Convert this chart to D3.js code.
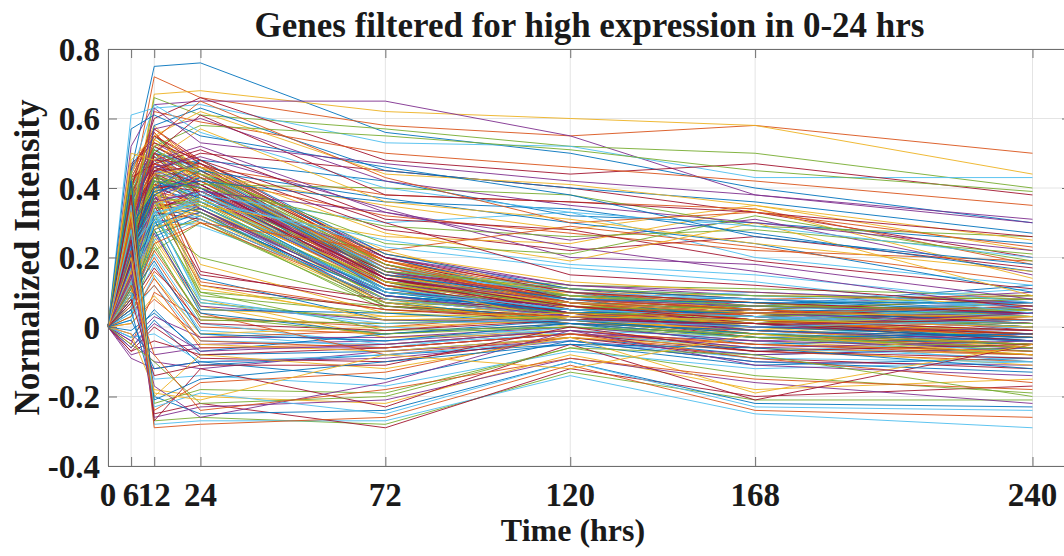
<!DOCTYPE html>
<html>
<head>
<meta charset="utf-8">
<script src="https://cdn.jsdelivr.net/npm/d3@7"></script>
<style>
  body { margin: 0; background: #fff; }
  text { font-family: "Liberation Serif", "Times New Roman", serif; font-weight: bold; fill: #1a1a1a; }
</style>
</head>
<body>
<div id="chart"></div>
<script>
'use strict';

// sample times (hrs); every gene starts at 0 at time 0
var times = [0, 6, 12, 24, 72, 120, 168, 240];
var startValue = 0;
var xTicks = [0, 6, 12, 24, 72, 120, 168, 240];
var yTicks = [-0.4, -0.2, 0, 0.2, 0.4, 0.6, 0.8];

// values at 6, 12, 24, 72, 120, 168, 240 hrs
var highGenes = [
  [0.45, 0.75, 0.76, 0.56, 0.50, 0.40, 0.30],
  [0.38, 0.72, 0.66, 0.58, 0.55, 0.58, 0.50],
  [0.30, 0.67, 0.68, 0.62, 0.60, 0.58, 0.44],
  [0.52, 0.64, 0.65, 0.65, 0.55, 0.38, 0.30],
  [0.28, 0.66, 0.61, 0.57, 0.52, 0.50, 0.40],
  [0.61, 0.63, 0.64, 0.53, 0.52, 0.43, 0.43],
  [0.40, 0.60, 0.66, 0.48, 0.44, 0.47, 0.38],
  [0.22, 0.58, 0.63, 0.45, 0.40, 0.36, 0.27],
  [0.35, 0.62, 0.59, 0.50, 0.46, 0.42, 0.35],
  [0.48, 0.55, 0.62, 0.44, 0.41, 0.35, 0.25],
  [0.26, 0.57, 0.60, 0.42, 0.35, 0.30, 0.22],
  [0.33, 0.52, 0.58, 0.55, 0.51, 0.45, 0.39],
  [0.44, 0.64, 0.56, 0.40, 0.33, 0.29, 0.20],
  [0.19, 0.50, 0.61, 0.38, 0.36, 0.33, 0.26],
  [0.57, 0.61, 0.55, 0.46, 0.38, 0.26, 0.18],
  [0.31, 0.54, 0.65, 0.43, 0.30, 0.33, 0.23],
  [0.50, 0.48, 0.57, 0.36, 0.31, 0.24, 0.16],
  [0.24, 0.63, 0.53, 0.47, 0.42, 0.38, 0.31]
];

var midGenes = [
  [0.30, 0.45, 0.50, 0.45, 0.40, 0.33, 0.20],
  [0.22, 0.40, 0.48, 0.42, 0.32, 0.30, 0.24],
  [0.41, 0.52, 0.46, 0.38, 0.36, 0.34, 0.18],
  [0.15, 0.35, 0.44, 0.35, 0.28, 0.35, 0.22],
  [0.36, 0.48, 0.52, 0.33, 0.25, 0.31, 0.15],
  [0.27, 0.43, 0.41, 0.40, 0.38, 0.29, 0.26],
  [0.12, 0.30, 0.38, 0.30, 0.33, 0.20, 0.12],
  [0.46, 0.55, 0.47, 0.28, 0.22, 0.26, 0.17],
  [0.20, 0.38, 0.45, 0.37, 0.30, 0.24, 0.10],
  [0.33, 0.50, 0.43, 0.32, 0.27, 0.22, 0.19],
  [0.09, 0.28, 0.35, 0.26, 0.24, 0.34, 0.14],
  [0.38, 0.46, 0.49, 0.34, 0.20, 0.18, 0.08],
  [0.25, 0.42, 0.40, 0.29, 0.26, 0.28, 0.21],
  [0.17, 0.33, 0.36, 0.25, 0.18, 0.15, 0.07],
  [0.43, 0.47, 0.51, 0.31, 0.28, 0.19, 0.11],
  [0.29, 0.39, 0.42, 0.36, 0.34, 0.27, 0.16],
  [0.06, 0.24, 0.30, 0.22, 0.29, 0.23, 0.13],
  [0.35, 0.44, 0.46, 0.27, 0.19, 0.30, 0.09],
  [0.14, 0.36, 0.39, 0.33, 0.23, 0.16, 0.05],
  [0.39, 0.51, 0.44, 0.24, 0.21, 0.32, 0.19],
  [0.23, 0.31, 0.37, 0.23, 0.17, 0.13, 0.04],
  [0.47, 0.53, 0.48, 0.30, 0.15, 0.12, 0.06]
];

var mainGenes = [
  [0.21, 0.42, 0.38, 0.15, 0.08, 0.05, 0.02],
  [0.32, 0.49, 0.44, 0.19, 0.10, 0.07, 0.04],
  [0.15, 0.36, 0.33, 0.12, 0.06, 0.02, -0.01],
  [0.40, 0.53, 0.46, 0.21, 0.12, 0.09, 0.08],
  [0.27, 0.45, 0.35, 0.10, 0.04, 0.00, -0.03],
  [0.11, 0.33, 0.31, 0.08, 0.05, 0.03, 0.06],
  [0.36, 0.47, 0.42, 0.17, 0.07, 0.04, 0.00],
  [0.19, 0.40, 0.36, 0.13, 0.09, 0.08, 0.05],
  [0.44, 0.56, 0.40, 0.14, 0.03, -0.02, -0.05],
  [0.08, 0.29, 0.30, 0.07, 0.02, 0.05, 0.03],
  [0.30, 0.44, 0.47, 0.20, 0.11, 0.06, 0.10],
  [0.24, 0.38, 0.34, 0.11, 0.06, -0.01, -0.04],
  [0.13, 0.35, 0.39, 0.16, 0.08, 0.10, 0.07],
  [0.37, 0.50, 0.43, 0.18, 0.05, 0.01, -0.02],
  [0.05, 0.26, 0.32, 0.09, 0.04, 0.06, 0.12],
  [0.28, 0.41, 0.37, 0.14, 0.10, 0.03, 0.01],
  [0.42, 0.54, 0.45, 0.22, 0.09, 0.04, -0.06],
  [0.17, 0.37, 0.33, 0.06, 0.01, -0.03, -0.07],
  [0.33, 0.46, 0.41, 0.16, 0.12, 0.11, 0.09],
  [0.10, 0.31, 0.29, 0.10, 0.07, 0.02, 0.04],
  [0.25, 0.43, 0.40, 0.12, 0.03, 0.05, -0.01],
  [0.39, 0.48, 0.36, 0.13, 0.06, 0.00, 0.03],
  [0.20, 0.39, 0.42, 0.19, 0.08, 0.07, 0.02],
  [0.14, 0.34, 0.35, 0.08, 0.00, -0.04, -0.08],
  [0.34, 0.51, 0.44, 0.15, 0.11, 0.08, 0.06],
  [0.07, 0.27, 0.31, 0.05, 0.03, 0.01, 0.05],
  [0.29, 0.40, 0.38, 0.17, 0.09, 0.06, 0.11],
  [0.45, 0.57, 0.48, 0.20, 0.07, 0.03, -0.03],
  [0.18, 0.36, 0.32, 0.09, 0.05, 0.04, 0.00],
  [0.26, 0.44, 0.41, 0.13, 0.02, -0.02, -0.05],
  [0.12, 0.32, 0.37, 0.11, 0.10, 0.09, 0.08],
  [0.35, 0.47, 0.39, 0.18, 0.06, 0.02, 0.01],
  [0.03, 0.22, 0.30, 0.06, 0.04, 0.03, 0.07],
  [0.31, 0.45, 0.43, 0.14, 0.08, 0.05, 0.03],
  [0.22, 0.41, 0.34, 0.07, 0.01, 0.00, -0.02],
  [0.41, 0.52, 0.45, 0.16, 0.04, -0.01, -0.04],
  [0.16, 0.35, 0.36, 0.12, 0.07, 0.06, 0.04],
  [0.38, 0.49, 0.42, 0.21, 0.13, 0.10, 0.06],
  [0.09, 0.30, 0.33, 0.10, 0.06, 0.04, 0.02],
  [0.23, 0.43, 0.39, 0.15, 0.05, 0.01, -0.01],
  [0.32, 0.46, 0.37, 0.12, 0.08, 0.07, 0.05],
  [0.13, 0.33, 0.31, 0.08, 0.03, -0.03, -0.06],
  [0.43, 0.55, 0.44, 0.17, 0.10, 0.05, 0.02],
  [0.27, 0.42, 0.40, 0.19, 0.11, 0.08, 0.09],
  [0.06, 0.28, 0.34, 0.09, 0.02, 0.00, -0.03],
  [0.36, 0.50, 0.46, 0.13, 0.04, 0.02, 0.00],
  [0.19, 0.38, 0.35, 0.11, 0.09, 0.06, 0.03],
  [0.29, 0.44, 0.42, 0.16, 0.06, 0.03, -0.02],
  [0.11, 0.34, 0.38, 0.14, 0.07, 0.05, 0.08],
  [0.40, 0.51, 0.43, 0.10, 0.05, 0.04, 0.01]
];

var coreGenes = [
  [0.26, 0.47, 0.41, 0.14, 0.05, 0.03, 0.04],
  [0.18, 0.41, 0.45, 0.18, 0.07, 0.01, -0.03],
  [0.35, 0.52, 0.37, 0.09, 0.03, 0.04, 0.07],
  [0.09, 0.33, 0.40, 0.16, 0.09, 0.05, 0.01],
  [0.42, 0.50, 0.47, 0.20, 0.08, 0.02, -0.04],
  [0.23, 0.39, 0.36, 0.12, 0.04, -0.02, -0.06],
  [0.30, 0.48, 0.43, 0.17, 0.10, 0.07, 0.03],
  [0.14, 0.37, 0.34, 0.10, 0.06, 0.03, 0.00],
  [0.38, 0.55, 0.45, 0.13, 0.02, -0.03, -0.08],
  [0.05, 0.30, 0.32, 0.11, 0.08, 0.06, 0.05],
  [0.27, 0.44, 0.39, 0.16, 0.07, 0.04, 0.02],
  [0.33, 0.46, 0.48, 0.21, 0.11, 0.08, 0.04],
  [0.16, 0.36, 0.30, 0.08, 0.03, 0.00, -0.02],
  [0.44, 0.58, 0.44, 0.15, 0.06, 0.01, -0.01],
  [0.21, 0.40, 0.42, 0.14, 0.04, 0.02, 0.06],
  [0.12, 0.34, 0.37, 0.13, 0.09, 0.07, 0.03],
  [0.36, 0.49, 0.40, 0.11, 0.05, 0.03, -0.03],
  [0.25, 0.45, 0.46, 0.19, 0.08, 0.05, 0.01],
  [0.08, 0.28, 0.33, 0.07, 0.02, 0.01, -0.04],
  [0.31, 0.50, 0.38, 0.15, 0.10, 0.06, 0.05],
  [0.40, 0.53, 0.42, 0.18, 0.06, 0.00, -0.06],
  [0.19, 0.38, 0.44, 0.12, 0.03, 0.02, 0.00],
  [0.28, 0.43, 0.35, 0.10, 0.07, 0.05, 0.08],
  [0.13, 0.35, 0.41, 0.17, 0.11, 0.09, 0.06],
  [0.34, 0.48, 0.47, 0.14, 0.04, -0.01, -0.05],
  [0.22, 0.42, 0.37, 0.09, 0.05, 0.04, 0.02],
  [0.46, 0.56, 0.43, 0.16, 0.08, 0.03, 0.00],
  [0.10, 0.31, 0.36, 0.12, 0.06, 0.02, -0.02],
  [0.29, 0.45, 0.40, 0.20, 0.12, 0.10, 0.07],
  [0.17, 0.39, 0.33, 0.06, 0.02, -0.02, -0.07],
  [0.37, 0.51, 0.45, 0.17, 0.09, 0.06, 0.03],
  [0.24, 0.41, 0.39, 0.13, 0.05, 0.03, 0.01],
  [0.07, 0.29, 0.35, 0.10, 0.04, 0.05, 0.04],
  [0.32, 0.47, 0.42, 0.15, 0.07, 0.02, -0.03],
  [0.41, 0.54, 0.46, 0.19, 0.09, 0.05, 0.02],
  [0.15, 0.37, 0.38, 0.11, 0.03, 0.00, -0.01],
  [0.26, 0.44, 0.36, 0.08, 0.04, 0.03, 0.05],
  [0.35, 0.49, 0.44, 0.16, 0.10, 0.08, 0.06],
  [0.20, 0.40, 0.41, 0.14, 0.06, 0.01, -0.04],
  [0.11, 0.32, 0.34, 0.09, 0.05, 0.04, 0.03],
  [0.43, 0.55, 0.48, 0.18, 0.07, 0.02, -0.02],
  [0.28, 0.46, 0.39, 0.12, 0.02, -0.01, -0.05],
  [0.18, 0.37, 0.43, 0.16, 0.08, 0.06, 0.04],
  [0.33, 0.50, 0.37, 0.13, 0.06, 0.04, 0.00],
  [0.04, 0.25, 0.31, 0.08, 0.03, 0.02, 0.06],
  [0.38, 0.52, 0.45, 0.20, 0.10, 0.07, 0.04],
  [0.23, 0.42, 0.40, 0.11, 0.04, 0.00, -0.03],
  [0.30, 0.47, 0.44, 0.17, 0.08, 0.05, 0.02],
  [0.14, 0.35, 0.32, 0.07, 0.01, -0.03, -0.06],
  [0.39, 0.50, 0.41, 0.14, 0.07, 0.04, 0.01],
  [0.25, 0.43, 0.46, 0.18, 0.09, 0.06, 0.05],
  [0.12, 0.33, 0.35, 0.10, 0.05, 0.03, 0.00],
  [0.34, 0.49, 0.38, 0.12, 0.04, 0.01, -0.02],
  [0.21, 0.40, 0.43, 0.15, 0.08, 0.07, 0.07],
  [0.45, 0.57, 0.47, 0.19, 0.06, 0.02, -0.03],
  [0.16, 0.36, 0.37, 0.13, 0.07, 0.04, 0.03],
  [0.27, 0.44, 0.34, 0.09, 0.03, -0.01, -0.04],
  [0.36, 0.51, 0.43, 0.16, 0.11, 0.09, 0.08],
  [0.08, 0.30, 0.39, 0.11, 0.05, 0.03, 0.01],
  [0.31, 0.46, 0.41, 0.14, 0.06, 0.02, -0.01]
];

var flatGenes = [
  [-0.05, 0.10, 0.02, 0.01, 0.02, -0.03, -0.05],
  [0.12, 0.25, 0.05, 0.03, 0.04, 0.00, 0.02],
  [-0.08, -0.06, -0.05, -0.04, -0.01, -0.06, -0.08],
  [0.20, 0.32, 0.10, 0.06, 0.03, 0.02, 0.04],
  [0.02, 0.15, -0.02, -0.06, 0.00, -0.04, -0.10],
  [0.26, 0.38, 0.15, 0.08, 0.05, 0.03, 0.06],
  [-0.03, 0.05, -0.08, -0.07, -0.03, -0.08, -0.06],
  [0.08, 0.20, 0.00, -0.02, 0.01, -0.01, -0.03],
  [0.33, 0.42, 0.18, 0.04, 0.06, 0.05, 0.01],
  [-0.09, -0.12, -0.10, -0.09, -0.04, -0.10, -0.11],
  [0.15, 0.28, 0.07, 0.02, 0.03, 0.01, 0.05],
  [0.04, 0.12, -0.04, -0.05, -0.02, -0.07, -0.04],
  [0.22, 0.35, 0.12, 0.05, 0.02, 0.04, 0.07],
  [-0.06, 0.02, -0.11, -0.08, -0.05, -0.11, -0.09],
  [0.10, 0.22, 0.03, 0.00, 0.04, 0.02, -0.01],
  [0.29, 0.40, 0.08, -0.03, -0.01, -0.05, -0.07],
  [-0.02, -0.08, -0.06, -0.06, -0.02, -0.04, -0.02],
  [0.17, 0.30, 0.20, 0.07, 0.05, 0.06, 0.09],
  [0.06, 0.18, -0.01, -0.04, 0.00, -0.02, 0.00],
  [-0.07, 0.00, -0.09, -0.10, -0.03, -0.09, -0.12],
  [0.24, 0.36, 0.14, 0.02, 0.01, -0.03, -0.05],
  [0.01, 0.08, -0.03, -0.01, 0.03, 0.00, 0.03],
  [0.13, 0.26, 0.06, -0.03, -0.02, -0.06, -0.08],
  [-0.04, -0.10, -0.12, -0.07, -0.04, -0.08, -0.06],
  [0.19, 0.33, 0.09, 0.04, 0.02, 0.01, -0.02],
  [0.09, 0.21, 0.01, -0.05, -0.01, -0.03, -0.07],
  [0.31, 0.45, 0.16, 0.06, 0.03, 0.00, 0.04],
  [-0.01, 0.04, -0.07, -0.02, 0.01, -0.05, -0.03],
  [0.05, 0.16, 0.04, -0.08, -0.03, -0.07, -0.10],
  [0.27, 0.14, -0.02, 0.00, 0.02, -0.01, 0.05]
];

var nearZeroGenes = [
  [0.18, 0.28, 0.04, -0.02, 0.02, -0.02, -0.04],
  [0.05, 0.12, -0.06, -0.05, -0.01, -0.05, -0.08],
  [0.28, 0.40, 0.11, 0.03, 0.04, 0.01, 0.03],
  [-0.04, 0.03, -0.03, -0.03, 0.00, -0.04, -0.06],
  [0.12, 0.24, 0.02, 0.01, 0.03, 0.02, 0.01],
  [0.22, 0.33, 0.08, 0.00, -0.02, -0.06, -0.09],
  [-0.07, -0.04, -0.08, -0.06, -0.02, -0.07, -0.05],
  [0.09, 0.19, -0.02, -0.04, 0.01, -0.03, -0.02],
  [0.35, 0.44, 0.13, 0.05, 0.03, 0.04, 0.06],
  [0.01, 0.09, -0.05, -0.07, -0.03, -0.06, -0.11],
  [0.15, 0.27, 0.06, 0.02, 0.02, 0.00, 0.04],
  [0.25, 0.37, 0.10, -0.01, 0.00, -0.03, -0.06],
  [-0.03, -0.02, -0.10, -0.08, -0.04, -0.09, -0.10],
  [0.07, 0.17, 0.01, -0.01, 0.02, 0.01, 0.02],
  [0.19, 0.31, 0.05, 0.04, 0.01, -0.01, -0.03],
  [0.03, 0.14, -0.04, -0.06, -0.02, -0.05, -0.07],
  [0.30, 0.41, 0.12, 0.02, 0.03, 0.02, 0.00],
  [-0.06, 0.01, -0.07, -0.05, -0.01, -0.06, -0.04],
  [0.11, 0.23, 0.03, -0.02, 0.00, -0.02, -0.05],
  [0.24, 0.34, 0.07, 0.01, 0.02, 0.00, 0.02]
];

var lowGenes = [
  [0.40, -0.27, -0.26, -0.28, -0.13, -0.21, -0.21],
  [0.35, -0.28, -0.27, -0.27, -0.14, -0.25, -0.29],
  [0.25, -0.25, -0.22, -0.29, -0.12, -0.20, -0.17],
  [0.05, -0.20, -0.25, -0.24, -0.10, -0.22, -0.23],
  [0.30, -0.29, -0.28, -0.26, -0.11, -0.24, -0.26],
  [-0.02, -0.18, -0.20, -0.22, -0.08, -0.18, -0.15],
  [0.18, -0.26, -0.23, -0.21, -0.09, -0.16, -0.22],
  [0.45, -0.22, -0.18, -0.19, -0.06, -0.14, -0.19],
  [0.10, -0.15, -0.14, -0.17, -0.07, -0.12, -0.10],
  [0.38, -0.27, -0.12, -0.23, -0.05, -0.21, -0.05],
  [0.02, -0.12, -0.10, -0.15, -0.04, -0.10, -0.13],
  [0.22, -0.24, -0.16, -0.13, -0.02, -0.09, -0.16],
  [0.33, -0.20, -0.08, -0.12, -0.03, -0.19, -0.05],
  [0.15, -0.17, -0.26, -0.16, -0.01, -0.11, -0.14],
  [-0.05, -0.10, -0.22, -0.20, -0.06, -0.08, -0.20],
  [0.28, -0.23, -0.19, -0.25, -0.10, -0.23, -0.24],
  [0.08, -0.14, -0.11, -0.11, 0.00, -0.07, -0.09],
  [0.42, -0.21, -0.15, -0.10, -0.05, -0.06, -0.12],
  [0.12, -0.08, -0.24, -0.18, -0.09, -0.15, -0.18],
  [0.20, -0.19, -0.21, -0.08, -0.12, -0.02, -0.08]
];

// MATLAB default colour order
var lineColors = ["#0072BD", "#D95319", "#EDB120", "#7E2F8E", "#77AC30", "#4DBEEE", "#A2142F"];

var w = 1064, h = 556;
var plotLeft = 108, plotTop = 49, plotRight = 1071, plotBottom = 466;

var svg = d3.select("#chart").append("svg")
  .attr("width", w)
  .attr("height", h);

var x = d3.scaleLinear().domain([0, 250]).range([plotLeft, plotRight]);
var y = d3.scaleLinear().domain([-0.4, 0.8]).range([plotBottom, plotTop]);

// grid
svg.append("g").selectAll("line")
  .data(xTicks)
  .enter().append("line")
  .attr("x1", function(d) { return x(d); })
  .attr("x2", function(d) { return x(d); })
  .attr("y1", plotTop).attr("y2", plotBottom)
  .attr("stroke", "#e4e4e4").attr("stroke-width", 1);

svg.append("g").selectAll("line")
  .data(yTicks)
  .enter().append("line")
  .attr("x1", plotLeft).attr("x2", plotRight)
  .attr("y1", function(d) { return y(d); })
  .attr("y2", function(d) { return y(d); })
  .attr("stroke", "#e4e4e4").attr("stroke-width", 1);

// gene lines, one after another like the original plot order
var groups = [mainGenes, flatGenes, coreGenes, nearZeroGenes, midGenes, highGenes, lowGenes];
var genes = [];
groups.forEach(function(g) {
  g.forEach(function(row) { genes.push([startValue].concat(row)); });
});

var line = d3.line()
  .x(function(d, i) { return x(times[i]); })
  .y(function(d) { return y(d); });

svg.append("g").selectAll("path")
  .data(genes)
  .enter().append("path")
  .attr("d", line)
  .attr("fill", "none")
  .attr("stroke", function(d, i) { return lineColors[i % lineColors.length]; })
  .attr("stroke-width", 1)
  .attr("stroke-opacity", 0.9);

// axes box with inward ticks
var axisColor = "#6e6e6e";
var tickLen = 9;
var xAxis = d3.axisBottom(x).tickValues(xTicks).tickSize(-tickLen).tickFormat("");
var xAxisTop = d3.axisTop(x).tickValues(xTicks).tickSize(-tickLen).tickFormat("");
var yAxis = d3.axisLeft(y).tickValues(yTicks).tickSize(-tickLen).tickFormat("");
var yAxisRight = d3.axisRight(y).tickValues(yTicks).tickSize(-tickLen).tickFormat("");

[
  [xAxis, "translate(0," + plotBottom + ")"],
  [xAxisTop, "translate(0," + plotTop + ")"],
  [yAxis, "translate(" + plotLeft + ",0)"],
  [yAxisRight, "translate(" + plotRight + ",0)"]
].forEach(function(a) {
  var g = svg.append("g").attr("transform", a[1]).call(a[0]);
  g.selectAll("path, line").attr("stroke", axisColor);
});

// tick labels
svg.append("g").selectAll("text")
  .data(xTicks)
  .enter().append("text")
  .attr("x", function(d) { return x(d); })
  .attr("y", 506)
  .attr("text-anchor", "middle")
  .attr("font-size", 33)
  .text(function(d) { return d; });

svg.append("g").selectAll("text")
  .data(yTicks)
  .enter().append("text")
  .attr("x", 100)
  .attr("y", function(d) { return y(d); })
  .attr("dy", "0.35em")
  .attr("text-anchor", "end")
  .attr("font-size", 33)
  .text(function(d) { return d === 0 ? "0" : d.toFixed(1); });

// title and axis labels
svg.append("text")
  .attr("x", (plotLeft + plotRight) / 2)
  .attr("y", 37)
  .attr("text-anchor", "middle")
  .attr("font-size", 35)
  .text("Genes filtered for high expression in 0-24 hrs");

svg.append("text")
  .attr("x", 573)
  .attr("y", 541)
  .attr("text-anchor", "middle")
  .attr("font-size", 32)
  .text("Time (hrs)");

svg.append("text")
  .attr("transform", "translate(39," + ((plotTop + plotBottom) / 2) + ") rotate(-90)")
  .attr("text-anchor", "middle")
  .attr("font-size", 35)
  .text("Normalized Intensity");
</script>
</body>
</html>
